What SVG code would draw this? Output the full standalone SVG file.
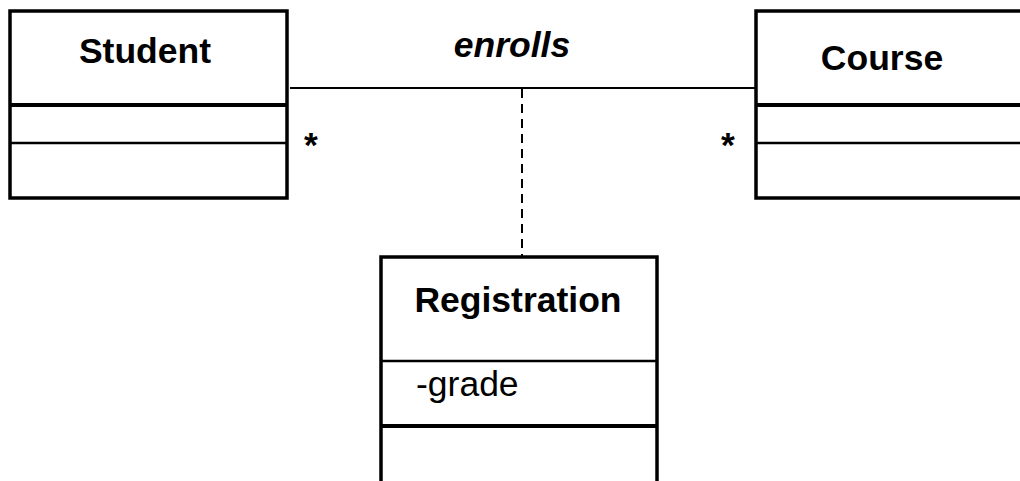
<svg xmlns="http://www.w3.org/2000/svg" width="1020" height="481" viewBox="0 0 1020 481">
<style>
.box{fill:#fff;stroke:#000;stroke-width:3.5}
.div{stroke:#000;stroke-width:2.5}
.thick{stroke:#000;stroke-width:4}
.t{font-family:"Liberation Sans",Arial,sans-serif;font-size:35.5px;fill:#000}
.b{font-weight:bold}
</style>
<rect width="1020" height="481" fill="#fff"/>
<g id="connectors">
<line x1="290" y1="88" x2="755" y2="88" stroke="#000" stroke-width="2"/>
<line x1="522" y1="89" x2="522" y2="257" stroke="#000" stroke-width="2" stroke-dasharray="9,6"/>
<text class="t b" x="512" y="57" text-anchor="middle" font-style="italic">enrolls</text>
<text class="t b" x="311" y="157" text-anchor="middle" font-size="32">*</text>
<text class="t b" x="728" y="157" text-anchor="middle" font-size="32">*</text>
</g>
<g id="student">
<rect class="box" x="10" y="11" width="277" height="187"/>
<line class="thick" x1="10" y1="105" x2="287" y2="105"/>
<line class="div" x1="10" y1="143" x2="287" y2="143"/>
<text class="t b" x="145" y="63" text-anchor="middle">Student</text>
</g>
<g id="course">
<rect class="box" x="756" y="11" width="280" height="187"/>
<line class="thick" x1="756" y1="105" x2="1020" y2="105"/>
<line class="div" x1="756" y1="143" x2="1020" y2="143"/>
<text class="t b" x="882" y="70" text-anchor="middle">Course</text>
</g>
<g id="registration">
<rect class="box" x="381" y="257" width="276" height="240"/>
<line class="div" x1="381" y1="361" x2="657" y2="361"/>
<line class="thick" x1="381" y1="426" x2="657" y2="426"/>
<text class="t b" x="518" y="312" text-anchor="middle">Registration</text>
<text class="t" x="416" y="396">-grade</text>
</g>
</svg>
